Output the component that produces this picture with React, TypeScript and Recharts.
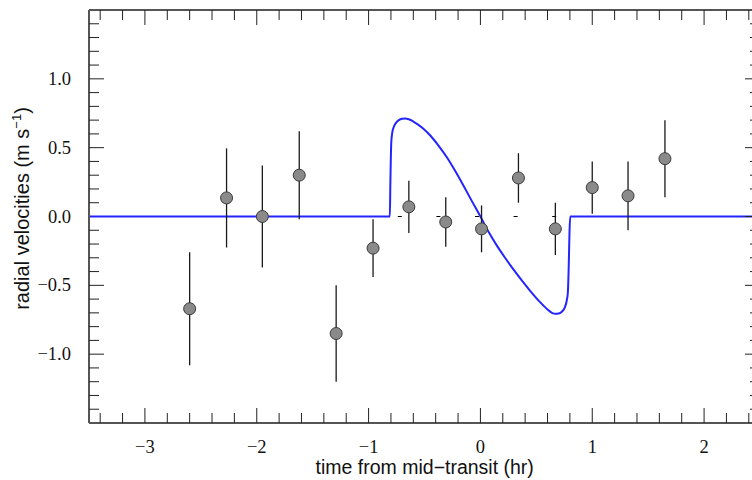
import React from "react";
import {
  ComposedChart,
  XAxis,
  YAxis,
  Line,
  Scatter,
  ErrorBar,
  ReferenceLine,
} from "recharts";

// Observed points: time from mid-transit (hr), radial velocity (m/s), 1-sigma error
const obsTime = [-2.6, -2.27, -1.95, -1.62, -1.29, -0.96, -0.64, -0.31, 0.01, 0.34, 0.67, 1.0, 1.32, 1.65];
const obsRV = [-0.67, 0.135, 0.0, 0.3, -0.85, -0.23, 0.07, -0.04, -0.09, 0.28, -0.09, 0.21, 0.15, 0.42];
const obsErr = [0.41, 0.36, 0.37, 0.32, 0.35, 0.21, 0.19, 0.18, 0.17, 0.18, 0.19, 0.19, 0.25, 0.28];

// Model curve
const modelTime = [
  -3.5, -0.81, -0.805, -0.797, -0.788, -0.775, -0.755, -0.73, -0.7, -0.67, -0.64, -0.6, -0.52, -0.45, -0.375,
  -0.3, -0.225, -0.152, -0.075, 0.0, 0.075, 0.15, 0.225, 0.3, 0.375, 0.45, 0.525, 0.6, 0.64, 0.669, 0.7, 0.73,
  0.755, 0.772, 0.782, 0.79, 0.797, 0.803, 2.5,
];
const modelRV = [
  0, 0, 0.25, 0.54, 0.61, 0.65, 0.68, 0.7, 0.71, 0.712, 0.706, 0.69, 0.645, 0.59, 0.515,
  0.43, 0.33, 0.225, 0.11, 0.0, -0.115, -0.215, -0.305, -0.39, -0.47, -0.545, -0.615, -0.675, -0.7, -0.707, -0.705, -0.69,
  -0.66, -0.61, -0.55, -0.35, -0.1, 0, 0,
];

const xTicks = Array.from({ length: 31 }, (_, i) => (i - 17) / 5); // -3.4 .. 2.4
const yTicks = Array.from({ length: 29 }, (_, i) => (i - 14) / 10); // -1.4 .. 1.4
const yLabels: Record<string, string> = { "1": "1.0", "0.5": "0.5", "0": "0.0", "-0.5": "\u22120.5", "-1": "\u22121.0" };

const obsData = obsTime.map((t, i) => ({ t, rv: obsRV[i], err: obsErr[i] }));
const modelData = modelTime.map((t, i) => ({ t, rv: modelRV[i] }));

const TICK_COLOR = "#222";
const serif = "'Liberation Serif', 'Times New Roman', serif";
const sans = "'Liberation Sans', Arial, sans-serif";

const isInt = (v: number) => Math.abs(v - Math.round(v)) < 1e-6;
const isHalf = (v: number) => Math.abs(v * 2 - Math.round(v * 2)) < 1e-6;
const fmtInt = (v: number) => (Math.round(v) < 0 ? "\u2212" + Math.abs(Math.round(v)) : String(Math.round(v)));

const BottomTick = (props: any) => {
  const { x, y, payload } = props;
  const v = payload.value as number;
  const major = isInt(v);
  const len = major ? 15 : 10;
  return (
    <g>
      <line x1={x} y1={y} x2={x} y2={y - len} stroke={TICK_COLOR} strokeWidth={1} />
      {major && (
        <text x={x} y={y + 30} textAnchor="middle" fontFamily={serif} fontSize={18.5} fill="#111">
          {fmtInt(v)}
        </text>
      )}
    </g>
  );
};

const TopTick = (props: any) => {
  const { x, y, payload } = props;
  const v = payload.value as number;
  const len = isInt(v) ? 15 : 10;
  return <line x1={x} y1={y} x2={x} y2={y + len} stroke={TICK_COLOR} strokeWidth={1} />;
};

const LeftTick = (props: any) => {
  const { x, y, payload } = props;
  const v = payload.value as number;
  const major = isHalf(v);
  const len = major ? 15 : 10;
  const key = String(Math.round(v * 10) / 10);
  const isZero = Math.abs(v) < 1e-6;
  return (
    <g>
      {!isZero && <line x1={x} y1={y} x2={x + len} y2={y} stroke={TICK_COLOR} strokeWidth={1} />}
      {major && (
        <text x={x - 18} y={y + 6} textAnchor="end" fontFamily={serif} fontSize={18.5} fill="#111">
          {yLabels[key]}
        </text>
      )}
    </g>
  );
};

const RightTick = (props: any) => {
  const { x, y, payload } = props;
  const v = payload.value as number;
  const len = isHalf(v) ? 15 : 10;
  return <line x1={x} y1={y} x2={x - len} y2={y} stroke={TICK_COLOR} strokeWidth={1} />;
};

const Dot = (props: any) => {
  const { cx, cy } = props;
  return <circle cx={cx} cy={cy} r={6} fill="#8a8a8a" stroke="#3a3a3a" strokeWidth={1} />;
};

const frame = { stroke: "#555", strokeWidth: 2 };

export default function App() {
  return (
    <div style={{ position: "fixed", left: 0, top: 0, width: 752, height: 480, overflow: "hidden", background: "#fff" }}>
      <ComposedChart width={770} height={480} margin={{ top: 0, right: 0, bottom: 0, left: 0 }}>
        <XAxis
          xAxisId="b"
          type="number"
          dataKey="t"
          domain={[-3.5, 2.5]}
          ticks={xTicks}
          interval={0}
          allowDataOverflow
          height={57}
          tickSize={0}
          tickMargin={0}
          tickLine={false}
          axisLine={frame}
          tick={<BottomTick />}
        />
        <XAxis
          xAxisId="t"
          orientation="top"
          type="number"
          dataKey="t"
          domain={[-3.5, 2.5]}
          ticks={xTicks}
          interval={0}
          allowDataOverflow
          height={10}
          tickSize={0}
          tickMargin={0}
          tickLine={false}
          axisLine={frame}
          tick={<TopTick />}
        />
        <YAxis
          yAxisId="l"
          type="number"
          domain={[-1.5, 1.5]}
          ticks={yTicks}
          interval={0}
          allowDataOverflow
          width={89}
          tickSize={0}
          tickMargin={0}
          tickLine={false}
          axisLine={frame}
          tick={<LeftTick />}
        />
        <YAxis
          yAxisId="r"
          orientation="right"
          type="number"
          domain={[-1.5, 1.5]}
          ticks={yTicks}
          interval={0}
          allowDataOverflow
          width={10}
          tickSize={0}
          tickMargin={0}
          tickLine={false}
          axisLine={frame}
          tick={<RightTick />}
        />
        <ReferenceLine xAxisId="b" yAxisId="l" y={0} stroke="#000" strokeWidth={1.2} strokeDasharray="4 34.6" />
        <Line
          xAxisId="b"
          yAxisId="l"
          data={modelData}
          dataKey="rv"
          type="monotone"
          stroke="#2424ff"
          strokeWidth={2}
          dot={false}
          activeDot={false}
          isAnimationActive={false}
        />
        <Scatter
          xAxisId="b"
          yAxisId="l"
          data={obsData}
          dataKey="rv"
          shape={<Dot />}
          isAnimationActive={false}
        >
          <ErrorBar dataKey="err" direction="y" width={0} stroke="#1a1a1a" strokeWidth={1.3} isAnimationActive={false} />
        </Scatter>
      </ComposedChart>
      <svg style={{ position: "absolute", left: 0, top: 0 }} width={752} height={480} pointerEvents="none">
        <text x={424.7} y={473.5} textAnchor="middle" fontFamily={sans} fontSize={19.5} fill="#111">
          time from mid{"\u2212"}transit (hr)
        </text>
        <text
          transform="translate(29,208.5) rotate(-90)"
          textAnchor="middle"
          fontFamily={sans}
          fontSize={20}
          fill="#111"
        >
          radial velocities (m s
          <tspan fontSize={13} dy={-8}>{"\u22121"}</tspan>
          <tspan dy={8}>)</tspan>
        </text>
      </svg>
    </div>
  );
}
